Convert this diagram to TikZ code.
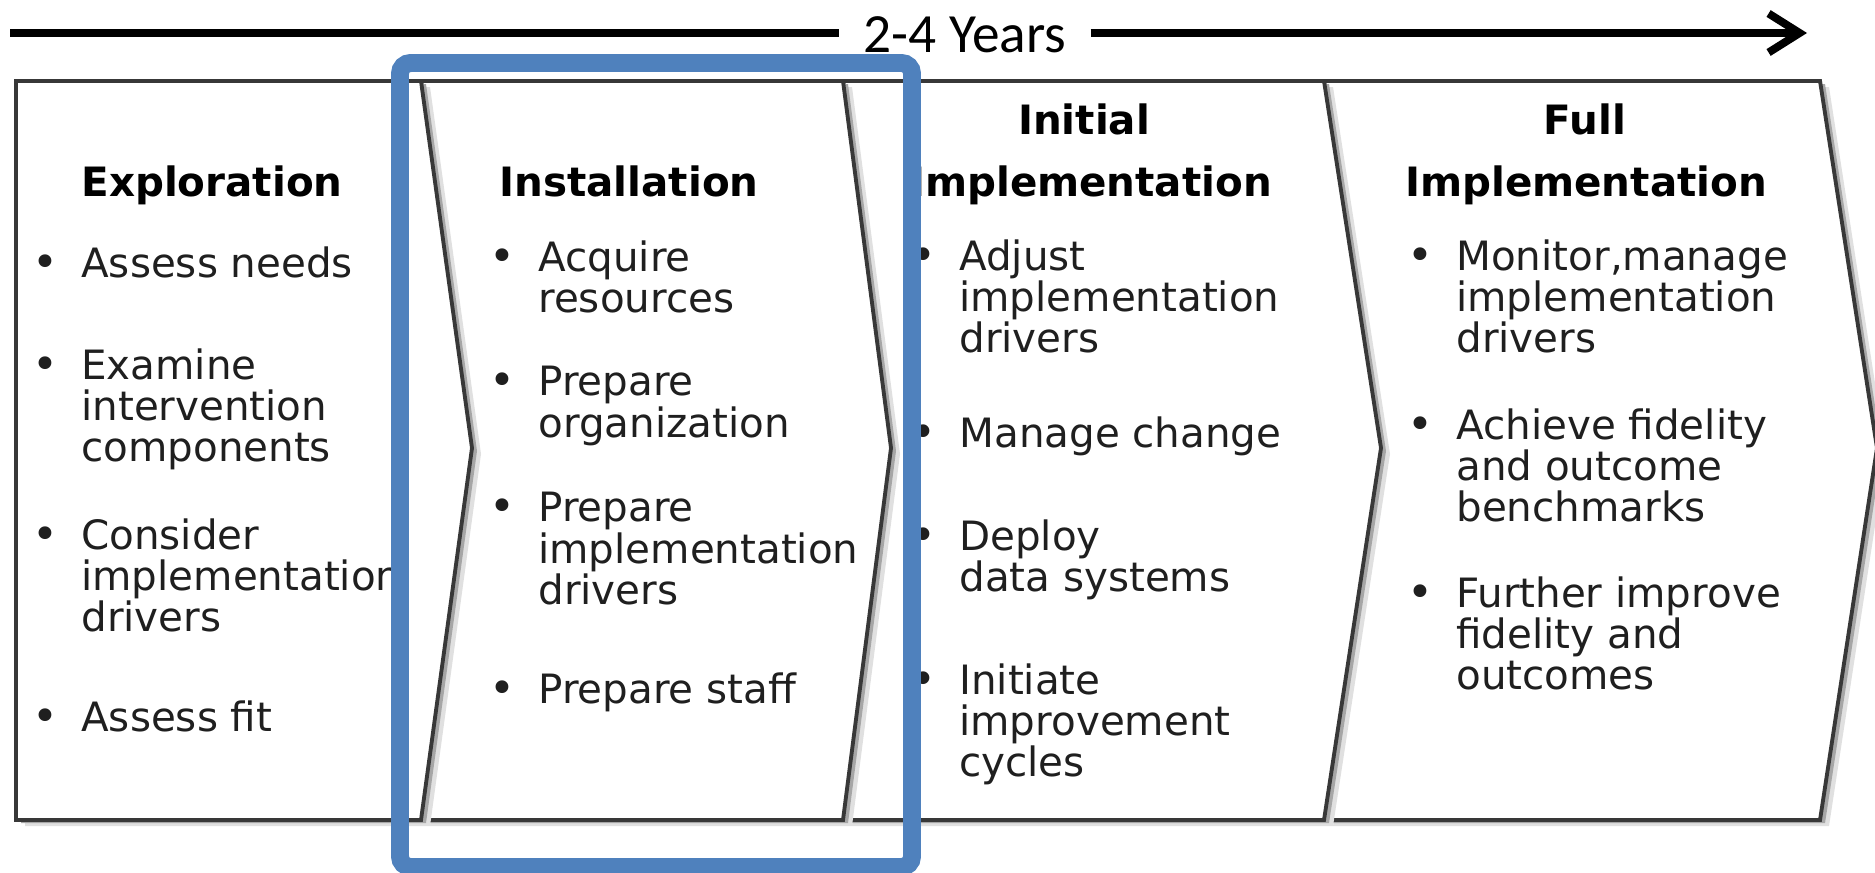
\documentclass[tikz,border=0pt]{standalone}
\usepackage{fontspec}
\setmainfont{DejaVu Sans}
\newfontfamily\yrsfont{Carlito}
\usetikzlibrary{arrows.meta}
\definecolor{boxblue}{HTML}{4F81BD}
\newcommand{\itemfont}{\fontsize{23}{23.5}\selectfont\lineskiplimit=-10pt\relax}
\newcommand{\headfont}{\fontsize{23}{23}\selectfont\bfseries}
\newcommand{\bul}{\llap{\makebox[0pt][c]{\fontsize{25}{25}\selectfont\textbullet}\hspace{20.5pt}}}

\tikzset{
  phase/.style={fill=white, draw=black!78, line width=2.2pt,
    preaction={fill=black!12, transform canvas={shift={(9,6)}}},
    preaction={fill=black!35, transform canvas={shift={(5,3)}}}},
  head/.style={font=\headfont, anchor=base, inner sep=0pt},
  item/.style={font=\itemfont, text=black!88, align=left, anchor=north west, inner sep=0pt},
}

\begin{document}
\begin{tikzpicture}[x=0.02cm,y=-0.02cm]
    \useasboundingbox (0,0) rectangle (1875,872);
    % time line
    \coordinate (tl) at (10,33);
    \coordinate (tr) at (1807,33);
    \node[font=\yrsfont\fontsize{31.5}{31.5}\selectfont, inner xsep=0.48cm, inner ysep=0pt] (yrs) at (965,35) {2-4 Years};
    \draw[line width=4.5pt] (tl) -- (yrs.west |- tl);
    \draw[line width=4.5pt, -{Straight Barb[length=0.62cm,width=0.78cm]}] (yrs.east |- tr) -- (tr);
    %
    % phases, right to left so each shadow falls on the next one
    \draw[phase] (1324,81) -- (1820,81) -- (1877,448) -- (1820,820) -- (1324,820) -- (1381,448) -- cycle;
    \draw[phase] (843,81) -- (1324,81) -- (1381,448) -- (1324,820) -- (843,820) -- (891,448) -- cycle;
    \draw[phase] (421,81) -- (843,81) -- (891,448) -- (843,820) -- (421,820) -- (472,448) -- cycle;
    \draw[phase] (16,81) -- (421,81) -- (472,448) -- (421,820) -- (16,820) -- cycle;
    %
    \node[head] (expl) at (212,196) {Exploration};
    \node[item] (expl1) at (81,246) {\bul Assess needs};
    \node[item] (expl2) at (81,348) {\bul Examine\\intervention\\components};
    \node[item] (expl3) at (81,518) {\bul Consider\\implementation\\drivers};
    \node[item] (expl4) at (81,700) {\bul Assess fit};
    %
    \node[head] (inst) at (629,196) {Installation};
    \node[item] (inst1) at (538,240) {\bul Acquire\\resources};
    \node[item] (inst2) at (538,366) {\bul Prepare\\organization};
    \node[item] (inst3) at (538,492) {\bul Prepare\\implementation\\drivers};
    \node[item] (inst4) at (538,672) {\bul Prepare staff};
    %
    \node[head] (init) at (1084,134) {Initial};
    \node[head] (initb) at (1091,196) {Implementation};
    \node[item] (init1) at (959,239) {\bul Adjust\\implementation\\drivers};
    \node[item] (init2) at (959,416) {\bul Manage change};
    \node[item] (init3) at (959,519) {\bul Deploy\\data systems};
    \node[item] (init4) at (959,663) {\bul Initiate\\improvement\\cycles};
    %
    \node[head] (full) at (1585,134) {Full};
    \node[head] (fullb) at (1586,196) {Implementation};
    \node[item] (full1) at (1456,239) {\bul Monitor,manage\\implementation\\drivers};
    \node[item] (full2) at (1456,408) {\bul Achieve fidelity\\and outcome\\benchmarks};
    \node[item] (full3) at (1456,576) {\bul Further improve\\fidelity and\\outcomes};
    %
    % highlight on installation
    \draw[boxblue, line width=10.2pt, rounded corners=6pt] (400,63) rectangle (912,867);
\end{tikzpicture}
\end{document}
